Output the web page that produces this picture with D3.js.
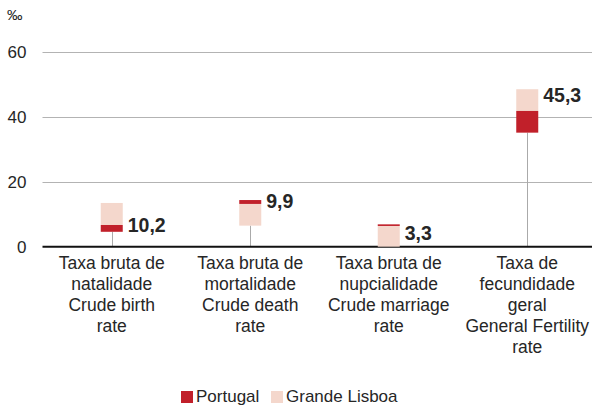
<!DOCTYPE html>
<html>
<head>
<meta charset="utf-8">
<script src="https://cdn.jsdelivr.net/npm/d3@7"></script>
<style>
  body { margin: 0; background: #fff; }
  svg { display: block; font-family: "Liberation Sans", Arial, sans-serif; }
</style>
</head>
<body>
<div id="chart"></div>
<script>
const width = 592;
const height = 406;

// categories, one entry per text line
const categories = ["natalidade", "mortalidade", "nupcialidade", "fecundidade"];
const catLabels = [
    ["Taxa bruta de", "natalidade", "Crude birth", "rate"],
    ["Taxa bruta de", "mortalidade", "Crude death", "rate"],
    ["Taxa bruta de", "nupcialidade", "Crude marriage", "rate"],
    ["Taxa de", "fecundidade", "geral", "General Fertility", "rate"]
];
// floating bars [low, high], in ‰
const portugal = [[4.6, 6.7], [13.2, 14.4], [6.4, 6.9], [35.2, 41.9]];
const grandeLisboa = [[6.7, 13.5], [6.5, 13.2], [0, 6.4], [41.9, 48.6]];
const lineLow = [0, 0, 0, 0];
const valueLabels = ["10,2", "9,9", "3,3", "45,3"];
const labelAt = [6.7, 14.0, 4.3, 46.8];
const yTicks = [0, 20, 40, 60];

const red = "#c1202a";
const pink = "#f4d7cc";
const ink = "#262626";

const svg = d3.select("#chart").append("svg")
    .attr("width", width)
    .attr("height", height);

const x = d3.scaleBand().domain(categories).range([42.5, 596.5]);
const y = d3.scaleLinear().domain([0, 60]).range([246.7, 52.3]);
const boxW = 22;

// grid
svg.append("g").selectAll("line")
    .data(yTicks.filter(d => d > 0))
    .join("line")
    .attr("x1", 42.5).attr("x2", width)
    .attr("y1", d => Math.round(y(d)) + 0.5).attr("y2", d => Math.round(y(d)) + 0.5)
    .attr("stroke", "#b3b3b3").attr("stroke-width", 1);

// tick labels
svg.append("g").selectAll("text")
    .data(yTicks)
    .join("text")
    .attr("x", 26.5).attr("y", d => y(d))
    .attr("dy", "0.36em")
    .attr("text-anchor", "end")
    .attr("font-size", 17)
    .attr("fill", ink)
    .text(d => d);

svg.append("text")
    .attr("x", 7).attr("y", 20)
    .attr("font-size", 15.5)
    .attr("fill", ink)
    .text("‰");

const cx = (d, i) => x(categories[i]) + x.bandwidth() / 2;

// low lines
svg.append("g").selectAll("line")
    .data(lineLow)
    .join("line")
    .attr("x1", (d, i) => Math.round(cx(d, i)) + 0.5)
    .attr("x2", (d, i) => Math.round(cx(d, i)) + 0.5)
    .attr("y1", d => y(d))
    .attr("y2", (d, i) => y(Math.min(portugal[i][0], grandeLisboa[i][0])))
    .attr("stroke", "#aaaaaa").attr("stroke-width", 1);

// x axis line
svg.append("line")
    .attr("x1", 42.5).attr("x2", width)
    .attr("y1", y(0)).attr("y2", y(0))
    .attr("stroke", "#111").attr("stroke-width", 2);

function bars(data, color) {
    svg.append("g").selectAll("rect")
        .data(data)
        .join("rect")
        .attr("x", (d, i) => cx(d, i) - boxW / 2)
        .attr("width", boxW)
        .attr("y", d => y(d[1]))
        .attr("height", d => y(d[0]) - y(d[1]))
        .attr("fill", color);
}
bars(grandeLisboa, pink);
bars(portugal, red);

// value labels
svg.append("g").selectAll("text")
    .data(valueLabels)
    .join("text")
    .attr("x", (d, i) => cx(d, i) + boxW / 2 + 5)
    .attr("y", (d, i) => y(labelAt[i]))
    .attr("dy", "0.36em")
    .attr("font-size", 19.5)
    .attr("font-weight", "bold")
    .attr("fill", ink)
    .text(d => d);

// category labels
const cat = svg.append("g").selectAll("text")
    .data(catLabels)
    .join("text")
    .attr("text-anchor", "middle")
    .attr("font-size", 17.5)
    .attr("fill", ink);
cat.selectAll("tspan")
    .data((d, i) => d.map(t => ({ t, i })))
    .join("tspan")
    .attr("x", d => cx(null, d.i))
    .attr("y", (d, j) => 269 + j * 21)
    .text(d => d.t);

// legend
const legend = [["Portugal", red, 181], ["Grande Lisboa", pink, 271]];
const lg = svg.append("g").selectAll("g")
    .data(legend)
    .join("g")
    .attr("transform", d => `translate(${d[2]},391)`);
lg.append("rect").attr("width", 12).attr("height", 12).attr("fill", d => d[1]);
lg.append("text")
    .attr("x", 15).attr("y", 11)
    .attr("font-size", 17)
    .attr("fill", ink)
    .text(d => d[0]);
</script>
</body>
</html>
